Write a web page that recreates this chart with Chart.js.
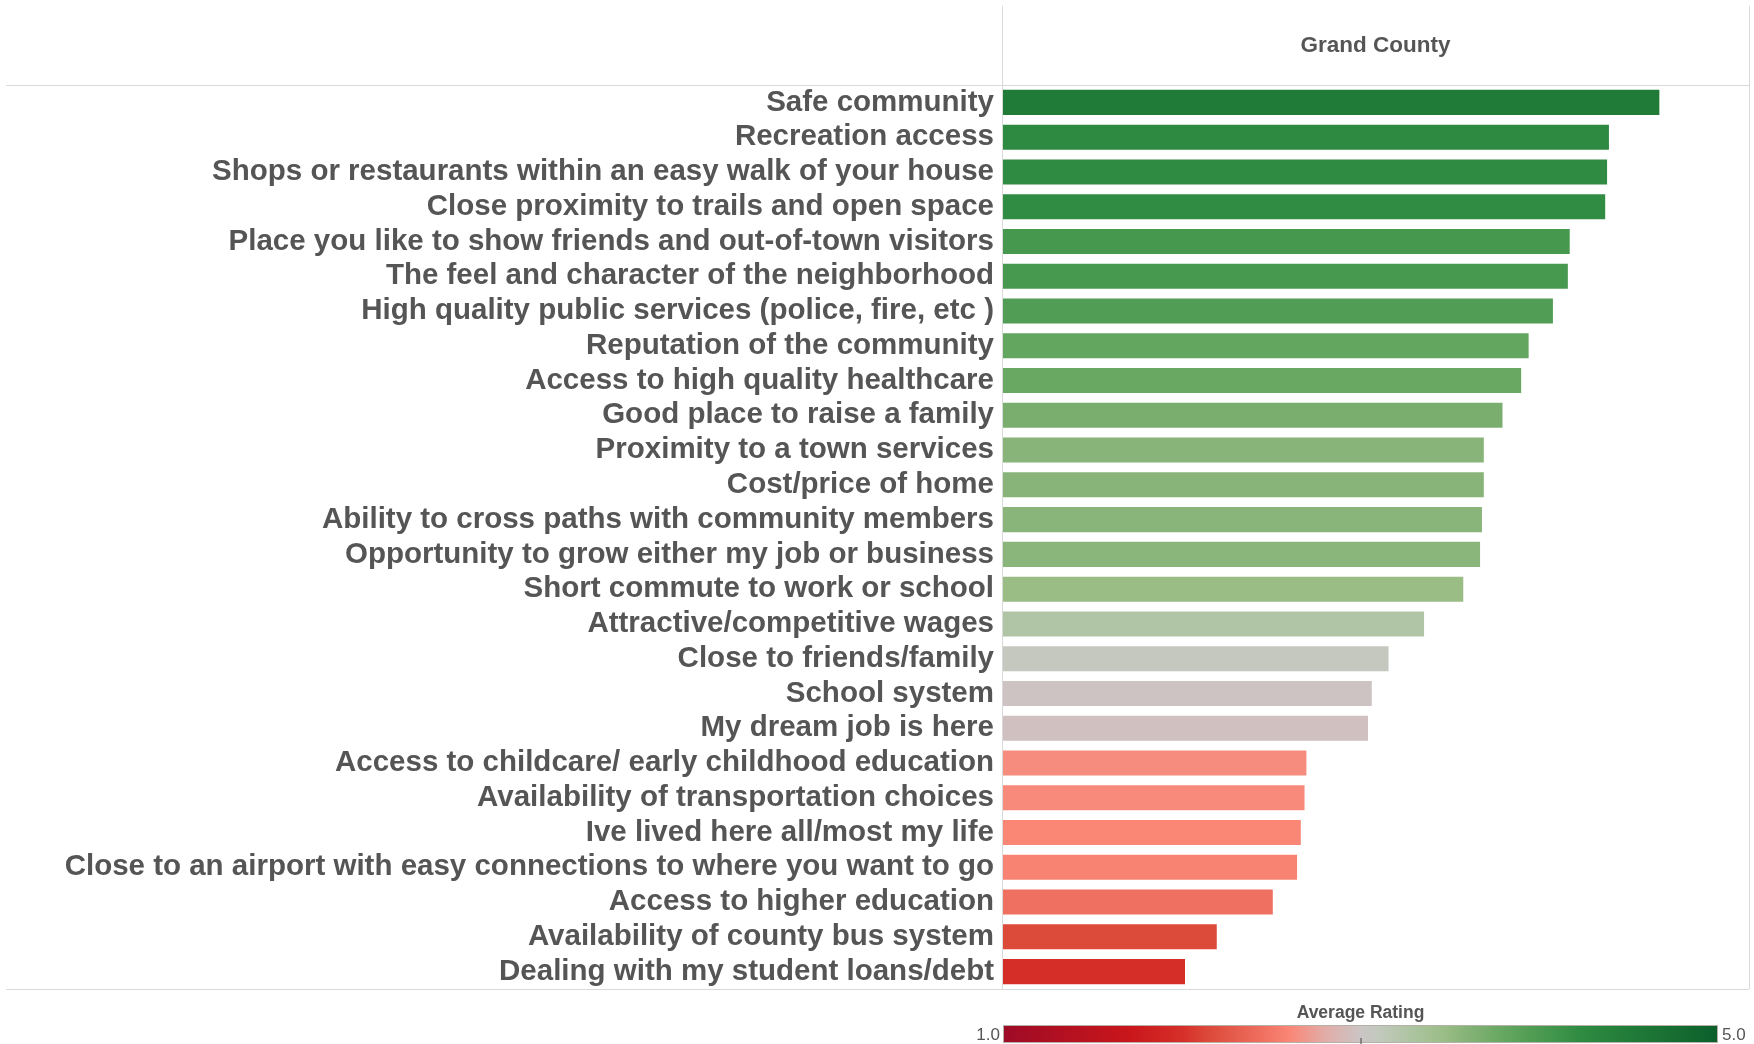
<!DOCTYPE html>
<html>
<head>
  <title>Grand County - Average Rating</title>
  <style>
    body { margin: 0; background: #ffffff; }
    .chart-container { width: 1754px; height: 1044px; }
  </style>
</head>
<body>
  <div class="chart-container">
    <canvas id="ratingChart" width="1754" height="1044"></canvas>
  </div>

  <script src="https://cdn.jsdelivr.net/npm/chart.js"></script>
  <script>
    const categories = [
      'Safe community',
      'Recreation access',
      'Shops or restaurants within an easy walk of your house',
      'Close proximity to trails and open space',
      'Place you like to show friends and out-of-town visitors',
      'The feel and character of the neighborhood',
      'High quality public services (police, fire, etc )',
      'Reputation of the community',
      'Access to high quality healthcare',
      'Good place to raise a family',
      'Proximity to a town services',
      'Cost/price of home',
      'Ability to cross paths with community members',
      'Opportunity to grow either my job or business',
      'Short commute to work or school',
      'Attractive/competitive wages',
      'Close to friends/family',
      'School system',
      'My dream job is here',
      'Access to childcare/ early childhood education',
      'Availability of transportation choices',
      'Ive lived here all/most my life',
      'Close to an airport with easy connections to where you want to go',
      'Access to higher education',
      'Availability of county bus system',
      'Dealing with my student loans/debt'
    ];
    const ratings = [
      4.52, 4.25, 4.24, 4.23, 4.04, 4.03, 3.95, 3.82, 3.78, 3.68, 3.58, 3.58, 3.57,
      3.56, 3.47, 3.26, 3.07, 2.98, 2.96, 2.63, 2.62, 2.60, 2.58, 2.45, 2.15, 1.98
    ];
    const columnHeader = 'Grand County';
    const legendTitle = 'Average Rating';
    const scaleMin = 1.0;
    const scaleMax = 5.0;

    // colour ramp (value -> colour)
    const colorStops = [
      [1.0, '#9e0b26'], [1.7, '#c9161b'], [2.0, '#d62f29'], [2.15, '#dc4a3a'],
      [2.45, '#ef7060'], [2.6, '#fa8676'], [2.8, '#e2aca7'], [3.0, '#cbc5c5'],
      [3.1, '#c3c9bd'], [3.26, '#b0c5a5'], [3.47, '#9abd86'], [3.57, '#89b57a'],
      [3.68, '#79ae6f'], [3.8, '#66a761'], [3.95, '#529d55'], [4.04, '#47984f'],
      [4.24, '#2e8b41'], [4.52, '#217b38'], [5.0, '#0c5f2b']
    ];

    function hexToRgb(h) {
      return [parseInt(h.substr(1, 2), 16), parseInt(h.substr(3, 2), 16), parseInt(h.substr(5, 2), 16)];
    }
    function rampColor(v) {
      for (let i = 1; i < colorStops.length; i++) {
        const [v0, c0] = colorStops[i - 1];
        const [v1, c1] = colorStops[i];
        if (v <= v1) {
          const t = Math.max(0, (v - v0) / (v1 - v0));
          const a = hexToRgb(c0), b = hexToRgb(c1);
          const c = a.map((x, k) => Math.round(x + (b[k] - x) * t));
          return `rgb(${c[0]}, ${c[1]}, ${c[2]})`;
        }
      }
      return colorStops[colorStops.length - 1][1];
    }

    const FONT = '"Liberation Sans", Arial, sans-serif';
    const TEXT = '#555555';
    const LINE = '#d9d9d9';

    // frame lines, column header and colour legend
    const decorPlugin = {
      id: 'decor',
      afterDraw(chart) {
        const ctx = chart.ctx;
        const a = chart.chartArea;
        ctx.save();
        ctx.strokeStyle = LINE;
        ctx.lineWidth = 1;
        ctx.beginPath();
        ctx.moveTo(6, a.top + 0.5); ctx.lineTo(a.right, a.top + 0.5);
        ctx.moveTo(6, a.bottom + 0.5); ctx.lineTo(a.right, a.bottom + 0.5);
        ctx.moveTo(a.left + 0.5, 6); ctx.lineTo(a.left + 0.5, a.bottom);
        ctx.moveTo(a.right + 0.5, 6); ctx.lineTo(a.right + 0.5, a.bottom);
        ctx.stroke();

        ctx.fillStyle = TEXT;
        ctx.font = 'bold 22.5px ' + FONT;
        ctx.textAlign = 'center';
        ctx.textBaseline = 'middle';
        ctx.fillText(columnHeader, (a.left + a.right) / 2, 46);

        // legend
        const lx0 = 1004, lx1 = 1717, ly = 1026, lh = 16;
        const g = ctx.createLinearGradient(lx0, 0, lx1, 0);
        colorStops.forEach(([v, c]) => g.addColorStop((v - scaleMin) / (scaleMax - scaleMin), c));
        ctx.fillStyle = g;
        ctx.fillRect(lx0, ly, lx1 - lx0, lh);
        ctx.strokeStyle = '#b5b0a8';
        ctx.strokeRect(lx0 - 0.5, ly - 0.5, lx1 - lx0 + 1, lh + 1);
        ctx.strokeStyle = '#444444';
        ctx.beginPath();
        ctx.moveTo((lx0 + lx1) / 2 + 0.5, ly + lh - 4);
        ctx.lineTo((lx0 + lx1) / 2 + 0.5, ly + lh + 2);
        ctx.stroke();

        ctx.fillStyle = TEXT;
        ctx.font = 'bold 17.5px ' + FONT;
        ctx.textAlign = 'center';
        ctx.fillText(legendTitle, (lx0 + lx1) / 2, 1013);
        ctx.font = '17px ' + FONT;
        ctx.textAlign = 'right';
        ctx.fillText(scaleMin.toFixed(1), lx0 - 4, ly + lh / 2 + 1);
        ctx.textAlign = 'left';
        ctx.fillText(scaleMax.toFixed(1), lx1 + 5, ly + lh / 2 + 1);
        ctx.restore();
      }
    };

    new Chart(document.getElementById('ratingChart').getContext('2d'), {
      type: 'bar',
      data: {
        labels: categories,
        datasets: [{
          label: legendTitle,
          data: ratings,
          backgroundColor: ratings.map(rampColor),
          borderWidth: 0,
          barPercentage: 0.72,
          categoryPercentage: 1.0
        }]
      },
      options: {
        indexAxis: 'y',
        responsive: false,
        animation: false,
        layout: { padding: { top: 85, bottom: 55, right: 5, left: 0 } },
        plugins: { legend: { display: false }, tooltip: { enabled: false } },
        scales: {
          x: { display: false, min: scaleMin, max: scaleMax },
          y: {
            grid: { display: false, drawTicks: false },
            border: { display: false },
            afterFit(scale) { scale.width = 1002; },
            ticks: {
              color: TEXT,
              padding: 8,
              autoSkip: false,
              font: { family: FONT, size: 29.5, weight: 'bold' }
            }
          }
        }
      },
      plugins: [decorPlugin]
    });
  </script>
</body>
</html>
